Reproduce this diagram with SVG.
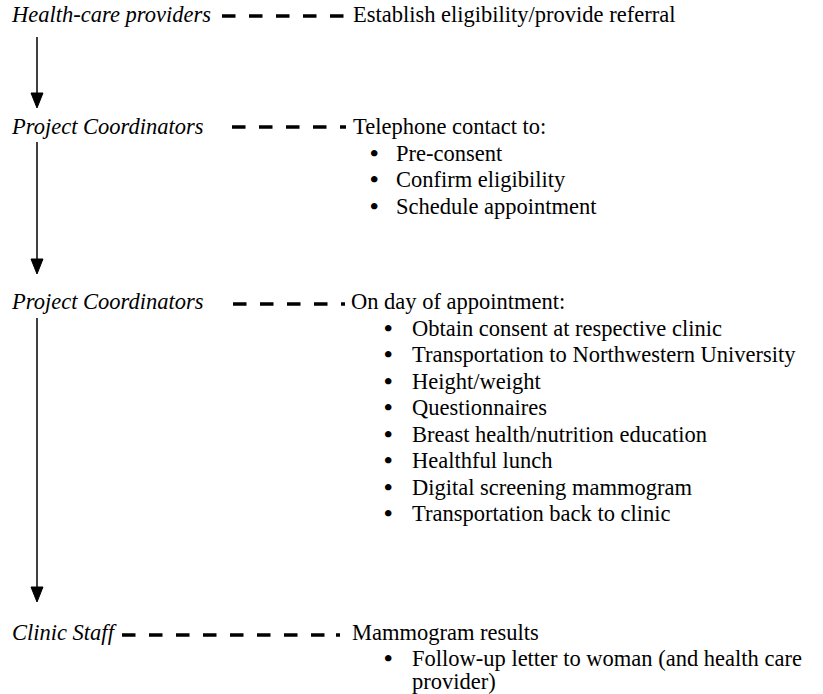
<svg xmlns="http://www.w3.org/2000/svg" width="823" height="694" viewBox="0 0 823 694">
<defs>
<path id="ah" d="M-6,0 L6,0 L0,15 Z" fill="#000"/>
</defs>
<rect width="823" height="694" fill="#fff"/>
<g id="connectors" fill="none" stroke="#000">
<line x1="37" y1="37" x2="37" y2="93" stroke-width="1.5"/>
<use href="#ah" x="37" y="93"/>
<line x1="37" y1="142" x2="37" y2="259" stroke-width="1.5"/>
<use href="#ah" x="37" y="259"/>
<line x1="37" y1="318" x2="37" y2="587" stroke-width="1.5"/>
<use href="#ah" x="37" y="587"/>
<line x1="222" y1="16" x2="346" y2="16" stroke-width="3.5" stroke-dasharray="13.5 13.5"/>
<line x1="232" y1="127" x2="346" y2="127" stroke-width="3.5" stroke-dasharray="13.5 13.5"/>
<line x1="233" y1="304" x2="345" y2="304" stroke-width="3.5" stroke-dasharray="13.5 13.5"/>
<line x1="122" y1="635" x2="335" y2="635" stroke-width="3.5" stroke-dasharray="13.5 13.5"/>
<line x1="336" y1="635" x2="340" y2="635" stroke-width="3.5"/>
</g>
<g id="health-care-providers">
<text x="12" y="22" font-family="Liberation Serif" font-size="22.5" font-style="italic">Health-care providers</text>
<text x="353" y="22" font-family="Liberation Serif" font-size="22.5">Establish eligibility/provide referral</text>
</g>
<g id="project-coordinators-1">
<text x="12" y="134" font-family="Liberation Serif" font-size="22.5" font-style="italic">Project Coordinators</text>
<text x="353" y="134" font-family="Liberation Serif" font-size="22.5">Telephone contact to:</text>
<text x="370" y="161" font-family="Liberation Serif" font-size="24" font-weight="bold">•</text><text x="396" y="161" font-family="Liberation Serif" font-size="22.5">Pre-consent</text>
<text x="370" y="187" font-family="Liberation Serif" font-size="24" font-weight="bold">•</text><text x="396" y="187" font-family="Liberation Serif" font-size="22.5">Confirm eligibility</text>
<text x="370" y="214" font-family="Liberation Serif" font-size="24" font-weight="bold">•</text><text x="396" y="214" font-family="Liberation Serif" font-size="22.5">Schedule appointment</text>
</g>
<g id="project-coordinators-2">
<text x="12" y="309" font-family="Liberation Serif" font-size="22.5" font-style="italic">Project Coordinators</text>
<text x="351" y="309" font-family="Liberation Serif" font-size="22.5">On day of appointment:</text>
<text x="384" y="336" font-family="Liberation Serif" font-size="24" font-weight="bold">•</text><text x="412" y="336" font-family="Liberation Serif" font-size="22.5">Obtain consent at respective clinic</text>
<text x="384" y="362" font-family="Liberation Serif" font-size="24" font-weight="bold">•</text><text x="412" y="362" font-family="Liberation Serif" font-size="22.5">Transportation to Northwestern University</text>
<text x="384" y="389" font-family="Liberation Serif" font-size="24" font-weight="bold">•</text><text x="412" y="389" font-family="Liberation Serif" font-size="22.5">Height/weight</text>
<text x="384" y="415" font-family="Liberation Serif" font-size="24" font-weight="bold">•</text><text x="412" y="415" font-family="Liberation Serif" font-size="22.5">Questionnaires</text>
<text x="384" y="442" font-family="Liberation Serif" font-size="24" font-weight="bold">•</text><text x="412" y="442" font-family="Liberation Serif" font-size="22.5">Breast health/nutrition education</text>
<text x="384" y="468" font-family="Liberation Serif" font-size="24" font-weight="bold">•</text><text x="412" y="468" font-family="Liberation Serif" font-size="22.5">Healthful lunch</text>
<text x="384" y="495" font-family="Liberation Serif" font-size="24" font-weight="bold">•</text><text x="412" y="495" font-family="Liberation Serif" font-size="22.5">Digital screening mammogram</text>
<text x="384" y="521" font-family="Liberation Serif" font-size="24" font-weight="bold">•</text><text x="412" y="521" font-family="Liberation Serif" font-size="22.5">Transportation back to clinic</text>
</g>
<g id="clinic-staff">
<text x="12" y="640" font-family="Liberation Serif" font-size="22.5" font-style="italic">Clinic Staff</text>
<text x="352" y="640" font-family="Liberation Serif" font-size="22.5">Mammogram results</text>
<text x="384" y="666" font-family="Liberation Serif" font-size="24" font-weight="bold">•</text><text x="412" y="666" font-family="Liberation Serif" font-size="22.5">Follow-up letter to woman (and health care</text>
<text x="412" y="689" font-family="Liberation Serif" font-size="22.5">provider)</text>
</g>
</svg>
